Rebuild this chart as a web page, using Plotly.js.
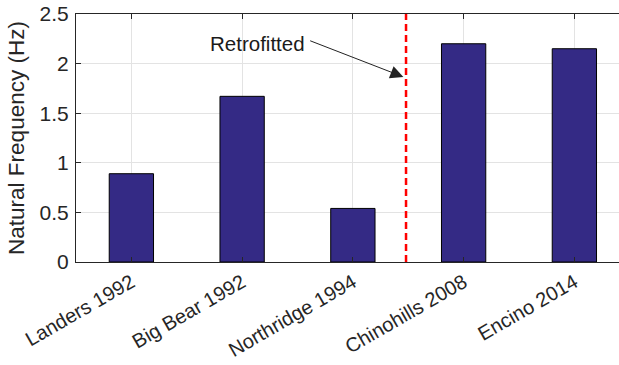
<!DOCTYPE html>
<html>
<head>
<meta charset="utf-8">
<script src="https://cdn.plot.ly/plotly-3.0.1.min.js"></script>
<style>html,body{margin:0;padding:0;background:#fff;}#chart{width:619px;height:365px;}</style>
</head>
<body>
<div id="chart"></div>
<script>
// Data
var categories = ["Landers 1992", "Big Bear 1992", "Northridge 1994", "Chinohills 2008", "Encino 2014"];
var naturalFrequency = [0.89, 1.67, 0.54, 2.20, 2.15];
var yTickValues = [0, 0.5, 1, 1.5, 2, 2.5];
var yTickLabels = ["0", "0.5", "1", "1.5", "2", "2.5"];
var retrofitBoundary = 2.48;   // category-index position between Northridge and Chinohills
var annotationText = "Retrofitted";

var axisColor = "#262626";
var family = "Liberation Sans, Arial, sans-serif";

var trace = {
  type: "bar",
  x: categories,
  y: naturalFrequency,
  width: 0.4,
  marker: {color: "#342a85", line: {color: "#000000", width: 1}},
  hoverinfo: "x+y"
};

var layout = {
  width: 619, height: 365,
  margin: {l: 76, r: 0, t: 14, b: 103},
  paper_bgcolor: "#ffffff",
  plot_bgcolor: "#ffffff",
  showlegend: false,
  font: {family: family, size: 20, color: axisColor},
  xaxis: {
    type: "category",
    range: [-0.5, 4.403],
    showgrid: true, gridcolor: "#e3e3e3", gridwidth: 1,
    showline: true, linecolor: axisColor, linewidth: 1,
    mirror: "ticks",
    ticks: "inside", ticklen: 5, tickcolor: axisColor,
    tickangle: -30,
    tickfont: {family: family, size: 20, color: axisColor},
    zeroline: false
  },
  yaxis: {
    range: [0, 2.5],
    tickvals: yTickValues,
    ticktext: yTickLabels,
    showgrid: true, gridcolor: "#e3e3e3", gridwidth: 1,
    showline: true, linecolor: axisColor, linewidth: 1,
    ticks: "inside", ticklen: 5, tickcolor: axisColor,
    tickfont: {family: family, size: 21, color: axisColor},
    ticklabelstandoff: 2,
    zeroline: false,
    title: {text: "Natural Frequency (Hz)", font: {family: family, size: 22.5, color: axisColor}, standoff: 8}
  },
  shapes: [{
    type: "line", xref: "x", yref: "y",
    x0: retrofitBoundary, x1: retrofitBoundary, y0: 0, y1: 2.5,
    line: {color: "#ff0000", width: 2.5, dash: "7px,4px"}
  }],
  annotations: [
    {
      xref: "x", yref: "y",
      x: 1.14, y: 2.205,
      text: annotationText,
      showarrow: false,
      font: {family: family, size: 20.5, color: "#1a1a1a"}
    },
    {
      xref: "x", yref: "y", axref: "x", ayref: "y",
      x: 2.456, y: 1.866,
      ax: 1.601, ay: 2.236,
      text: "",
      showarrow: true,
      arrowhead: 2, arrowsize: 2.6, arrowwidth: 1, arrowcolor: "#222222",
      standoff: 0, startstandoff: 0
    }
  ]
};

Plotly.newPlot("chart", [trace], layout, {displayModeBar: false, staticPlot: true});
</script>
</body>
</html>
